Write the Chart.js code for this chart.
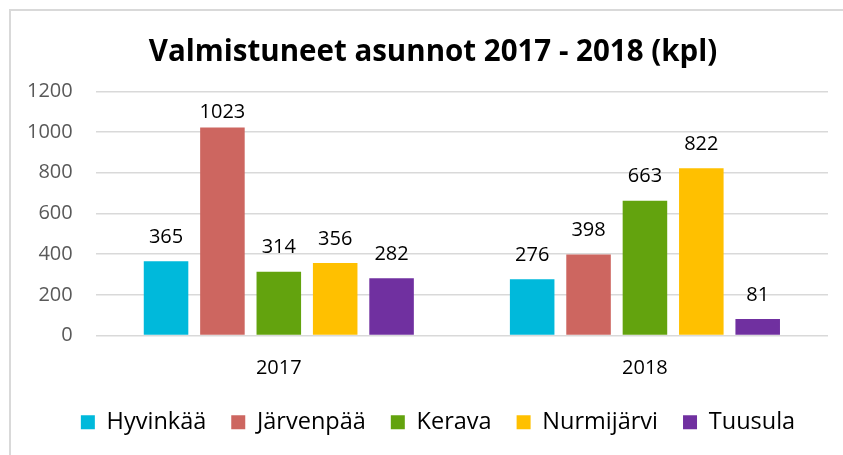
<!DOCTYPE html>
<html>
<head>
<meta charset="utf-8">
<script src="https://cdn.jsdelivr.net/npm/chart.js@4"></script>
<style>
  html, body { margin: 0; padding: 0; background: #fff; }
  #wrap { position: relative; width: 843px; height: 455px; overflow: hidden; }
  #frame { position: absolute; left: 9px; top: 9px; width: 900px; height: 500px; border: 2px solid #d9d9d9; }
  canvas { position: absolute; left: 0; top: 0; }
</style>
</head>
<body>
<div id="wrap">
  <div id="frame"></div>
  <canvas id="myChart" width="843" height="455"></canvas>
</div>
<script>
const years = ['2017', '2018'];
const towns = ['Hyvinkää', 'Järvenpää', 'Kerava', 'Nurmijärvi', 'Tuusula'];
const hyvinkaa = [365, 276];
const jarvenpaa = [1023, 398];
const kerava = [314, 663];
const nurmijarvi = [356, 822];
const tuusula = [282, 81];
const yTicks = [0, 200, 400, 600, 800, 1000, 1200];
const colors = ['#00B9DB', '#CD6660', '#63A30E', '#FFC000', '#7030A0'];

const seriesValues = [hyvinkaa, jarvenpaa, kerava, nurmijarvi, tuusula];

// labels above each bar, kept inside the plot area
const valueLabels = {
    id: 'valueLabels',
    afterDatasetsDraw(chart) {
        const ctx = chart.ctx;
        const minY = chart.chartArea.top + 31;
        ctx.save();
        ctx.font = '20px "Open Sans"';
        ctx.fillStyle = '#000';
        ctx.textAlign = 'center';
        ctx.textBaseline = 'bottom';
        chart.data.datasets.forEach((ds, i) => {
            chart.getDatasetMeta(i).data.forEach((bar, j) => {
                ctx.fillText(ds.data[j], bar.x, Math.max(bar.y - 14, minY));
            });
        });
        ctx.restore();
    }
};

// nudge title and legend a bit to the right, like in the original
const blockShift = {
    id: 'blockShift',
    afterLayout(chart) {
        chart.legend.left += 22;
        chart.legend.right += 22;
        chart.titleBlock.left += 17;
        chart.titleBlock.right += 17;
    }
};

const ctx = document.getElementById('myChart').getContext('2d');
const myChart = new Chart(ctx, {
    type: 'bar',
    data: {
        labels: years,
        datasets: towns.map((t, i) => ({
            label: t,
            data: seriesValues[i],
            backgroundColor: colors[i],
            borderWidth: 0,
            barPercentage: 0.79,
            categoryPercentage: 0.77
        }))
    },
    options: {
        responsive: false,
        animation: false,
        layout: { padding: { left: 4, right: 15, top: 20, bottom: 11 } },
        scales: {
            y: {
                min: 0,
                max: 1200,
                afterBuildTicks(axis) { axis.ticks = yTicks.map(v => ({ value: v })); },
                grid: { color: '#d9d9d9', lineWidth: 1.5, drawTicks: false },
                border: { display: false },
                ticks: {
                    color: '#595959',
                    font: { family: 'Open Sans', size: 20 },
                    padding: 23,
                    callback: v => String(v)
                }
            },
            x: {
                grid: { display: false, drawTicks: false },
                border: { display: false },
                ticks: { color: '#000', font: { family: 'Open Sans', size: 20 }, padding: 21 },
                afterFit(axis) { axis.height -= 16; }
            }
        },
        plugins: {
            title: {
                display: true,
                text: 'Valmistuneet asunnot 2017 - 2018 (kpl)',
                color: '#000',
                font: { family: 'Open Sans', size: 29.5, weight: 'bold' },
                padding: { top: 15, bottom: 21 }
            },
            legend: {
                position: 'bottom',
                labels: {
                    color: '#000',
                    font: { family: 'Open Sans', size: 23.5 },
                    boxWidth: 14,
                    boxHeight: 14,
                    padding: 25
                }
            },
            tooltip: { enabled: false }
        }
    },
    plugins: [valueLabels, blockShift]
});
</script>
</body>
</html>
